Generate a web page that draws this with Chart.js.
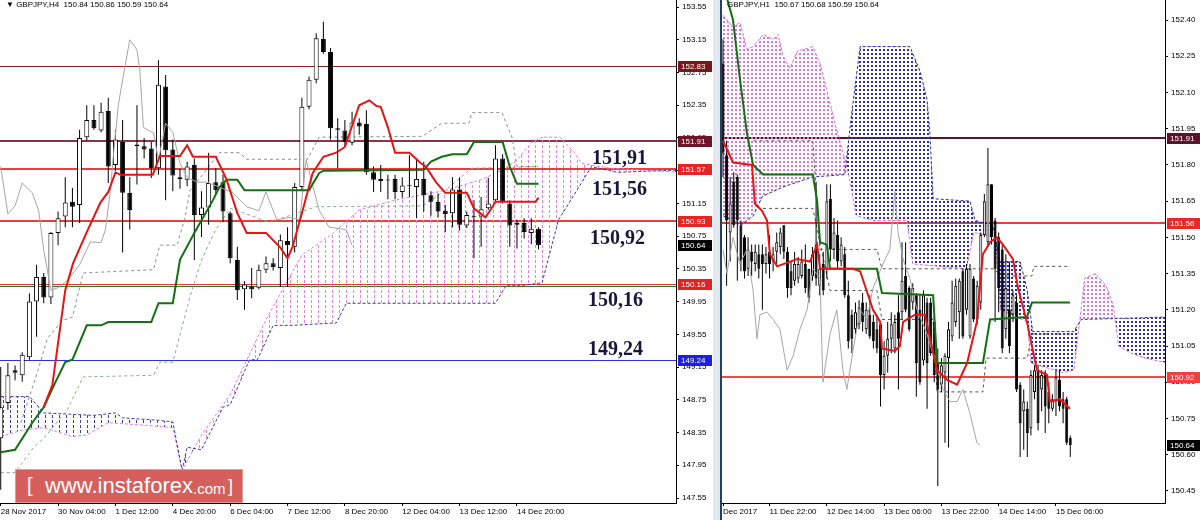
<!DOCTYPE html>
<html>
<head>
<meta charset="utf-8">
<script src="https://cdn.jsdelivr.net/npm/chart.js@4.4.1/dist/chart.umd.min.js"></script>
<style>
  html, body { margin: 0; padding: 0; background: #fff; }
  #wrap { position: relative; width: 1200px; height: 520px; overflow: hidden; background: #fff;
          font-family: 'Liberation Sans', Arial, sans-serif; }
  canvas { position: absolute; top: 0; }
  #cH4 { left: 0; }
  #cH1 { left: 722px; }
  #strip { position: absolute; left: 713px; top: 0; width: 7px; height: 520px; background: #e3e7ee; }
  #sep { position: absolute; left: 720px; top: 0; width: 2px; height: 520px; background: #24405c; }
  .hdr { position: absolute; top: 0; font-size: 8px; line-height: 10px; color: #000; white-space: nowrap; }
  .note { position: absolute; font-family: 'Liberation Serif', 'Times New Roman', serif; font-weight: bold;
          font-size: 20px; line-height: 22px; color: #17173c; }
  #wm { position: absolute; left: 15px; top: 469px; width: 228px; height: 34px; background: #d65f5d;
        border: 1px solid #e49a98; box-sizing: border-box; color: #fff; white-space: nowrap;
        font-family: 'Liberation Sans', Arial, sans-serif; }
  #wm span { position: absolute; top: 4px; }
</style>
</head>
<body>
<div id="wrap">
  <canvas id="cH4" width="713" height="520"></canvas>
  <div id="strip"></div>
  <div id="sep"></div>
  <canvas id="cH1" width="478" height="520"></canvas>

  <div class="hdr" style="left:6px">&#9660; GBPJPY,H4&nbsp; 150.84 150.86 150.59 150.64</div>
  <div class="hdr" style="left:727px">GBPJPY,H1&nbsp; 150.67 150.68 150.59 150.64</div>

  <div class="note" style="left:592px;top:146px">151,91</div>
  <div class="note" style="left:592px;top:177px">151,56</div>
  <div class="note" style="left:590px;top:226px">150,92</div>
  <div class="note" style="left:588px;top:288px">150,16</div>
  <div class="note" style="left:588px;top:337px">149,24</div>

  <div id="wm">
    <span style="left:11px;font-size:20px;top:4px">[</span>
    <span style="left:29px;font-size:22px;top:3px">www.instaforex</span>
    <span style="left:177px;font-size:15px;top:10px">.com</span>
    <span style="left:212px;font-size:18px;top:6px">]</span>
  </div>
</div>

<script>
// ---------- H4 panel ----------
const h4Open = [148.28,148.71,149.11,149.05,149.27,149.95,150.25,150.00,150.79,150.99,
  151.17,151.13,151.96,152.17,152.04,152.28,151.62,151.90,151.28,151.85,
  151.85,151.82,151.58,152.58,151.81,151.47,151.44,151.62,151.01,151.10,
  151.41,151.41,151.03,150.46,150.10,150.13,150.12,150.34,150.42,150.36,
  150.69,150.62,151.35,152.33,152.66,153.16,153.00,152.07,152.04,151.89,
  152.14,152.12,151.53,151.45,151.44,151.45,151.29,151.37,151.35,151.45,
  151.25,151.17,151.06,151.03,151.32,150.88,150.98,150.99,151.09,151.19,
  151.70,151.15,150.91,150.91,150.79,150.84];
const h4High = [149.15,149.20,149.17,149.33,150.05,150.40,150.30,150.80,151.05,151.47,
  151.34,152.05,152.35,152.35,152.38,152.44,152.05,152.17,151.47,152.35,
  151.95,151.90,152.90,152.72,151.93,151.57,151.66,151.70,151.30,151.77,
  151.58,151.50,151.05,150.62,150.20,150.36,150.40,150.50,150.48,150.77,
  150.86,151.40,152.44,152.70,153.23,153.37,153.05,152.19,152.17,152.27,
  152.19,152.29,151.60,151.62,151.50,151.50,151.47,151.74,151.70,151.66,
  151.30,151.27,151.13,151.47,151.47,151.05,151.19,151.23,151.46,151.86,
  151.75,151.19,150.95,150.97,150.97,150.86];
const h4Low = [147.65,148.63,148.99,148.97,149.24,149.52,149.93,149.92,150.64,150.86,
  150.86,150.91,151.92,152.05,152.02,151.40,151.55,150.55,150.83,151.38,
  151.70,151.46,151.50,151.19,151.30,151.33,151.36,150.46,150.74,150.89,
  151.25,150.92,150.42,149.97,149.85,149.99,150.10,150.30,150.33,150.13,
  150.13,150.55,151.31,152.30,152.62,152.98,151.93,151.58,151.85,151.86,
  151.99,151.50,151.29,151.29,151.20,151.20,151.22,151.23,150.97,151.05,
  151.00,150.98,150.80,150.86,150.82,150.85,150.48,150.62,151.07,151.17,
  151.15,150.62,150.60,150.72,150.65,150.59];
const h4Close = [148.66,149.05,149.08,149.30,149.95,150.25,150.00,150.79,150.97,151.16,
  151.11,151.95,152.17,152.07,152.27,151.60,151.93,151.28,151.07,151.87,
  151.81,151.58,152.60,151.80,151.49,151.45,151.60,151.01,151.10,151.40,
  151.31,151.05,150.48,150.09,150.16,150.10,150.34,150.42,150.37,150.70,
  150.64,151.35,152.33,152.66,153.17,153.00,152.07,152.05,151.90,152.14,
  152.09,151.53,151.44,151.42,151.43,151.29,151.37,151.36,151.45,151.25,
  151.17,151.05,151.02,151.32,150.89,151.01,150.99,151.08,151.15,151.70,
  151.17,150.88,150.89,150.80,150.84,150.64];

// indicator vertices as [bar, price]
const h4Tenkan = [[6,148.66],[7.2,148.93],[9,150.09],[10.1,150.42],[12,150.80],[13.9,151.16],[15,151.29],
  [16,151.53],[16.7,151.50],[21.2,151.50],[22.2,151.73],[25,151.73],[26,151.86],[26.8,151.72],
  [30,151.72],[31.5,151.44],[33,151.03],[34.3,150.79],[37,150.79],[39,150.61],[40,150.48],
  [40.7,150.62],[42,151.03],[43.5,151.52],[45,151.72],[46.8,151.77],[48,151.84],[50,152.35],
  [51.4,152.41],[52.4,152.34],[53,152.33],[54,152.08],[55,151.77],[57,151.77],[58.6,151.64],
  [59.3,151.60],[60.7,151.41],[62,151.28],[65,151.28],[66,151.09],[67.6,150.98],[68.3,151.07],
  [69,151.17],[74.6,151.17],[75,151.22]];
const h4Kijun = [[0,148.11],[2,148.14],[4.4,148.47],[6,148.66],[7.6,148.96],[9,149.21],[10,149.24],
  [12,149.66],[14,149.66],[15,149.70],[21,149.70],[22,149.93],[24,149.93],[25,150.46],[27,150.79],
  [29.6,151.19],[30.5,151.35],[31.5,151.44],[33,151.44],[34,151.31],[43,151.31],[44.4,151.52],
  [45,151.55],[59,151.56],[60,151.66],[61.5,151.72],[63,151.75],[65,151.75],[66,151.90],
  [70,151.90],[71,151.60],[72,151.39],[75,151.39]];
const h4Chikou = [[0,151.60],[1,151.02],[2,151.12],[3,151.40],[4.4,151.28],[5.3,151.06],[6,150.58],
  [7,150.09],[8,150.12],[9.3,150.21],[11,150.40],[12.5,150.68],[14,150.67],[14.6,150.83],
  [15.3,151.31],[15.7,151.72],[16.4,152.35],[17,152.66],[18,153.15],[19,153.03],[19.4,152.78],
  [19.9,152.08],[21.3,152.01],[22,151.68],[23,152.13],[24,152.02],[25,151.64],[26,151.47],
  [27.4,151.41],[28.8,151.41],[32.4,151.28],[34.3,151.11],[36,151.06],[37,151.29],[38.5,150.95],
  [40.3,150.98],[41.7,150.95],[42.6,151.68],[44.4,151.07],[45.8,150.86],[48.2,150.83],[49,150.64]];
const h4SpanA = [[0,148.30],[3,148.38],[6,148.41],[10,148.30],[12,148.32],[15,148.47],[20,148.44],
  [24,148.41],[25.3,147.89],[28,148.32],[32,148.81],[35,149.36],[37,149.73],[42,150.52],
  [46,150.76],[50,151.07],[55,151.19],[62,151.31],[67,151.44],[70,151.56],[72,151.68],
  [74,151.89],[75.5,151.96],[78,151.96],[80,151.77],[81,151.64],[85,151.58],[95,151.53]];
const h4SpanB = [[0,148.79],[4,148.79],[5.3,148.66],[6,148.59],[13,148.56],[16,148.59],[17,148.53],
  [22,148.50],[24,148.48],[25.3,147.89],[26,148.17],[28,148.14],[31,148.66],[32,148.69],
  [34.7,149.24],[35.8,149.24],[38,149.66],[40.7,149.66],[46.8,149.69],[48.2,149.93],[69,149.93],
  [70.5,150.15],[73,150.15],[75.5,150.18],[77.8,150.95],[82.4,151.60],[86,151.53],[95,151.56]];
const h4DashUpper = [[2.8,148.47],[5.1,149.08],[6.5,149.50],[8.6,149.72],[10,149.76],[11.5,150.30],
  [13.9,150.31],[21.3,150.34],[22.2,150.64],[24.6,150.64],[25.7,150.98],[26.4,151.31],[27.8,151.46],
  [30.5,151.77],[33.3,151.77],[34.3,151.69],[42.8,151.69],[44.4,151.96],[58.8,151.97],[61.5,152.13],
  [65.3,152.13],[65.7,152.26],[69.9,152.26],[71.3,151.96],[72,151.60],[75,151.60]];
const h4DashLower = [[0,147.86],[2,147.86],[4.6,148.17],[6,148.28],[9.3,148.63],[11.5,149.03],
  [21.3,149.05],[22.2,149.21],[24,149.21],[26.4,150.01],[28,150.46],[30,150.83],[32,151.09],
  [37.5,150.92],[44,151.11],[58.8,151.12],[62,151.31],[65.7,151.58],[75,151.60]];

const h4Levels = [152.83, 151.91, 151.57, 150.93, 150.16, 150.14, 149.24];
const h4LastPrice = 150.64;
const h4PriceTicks = [147.55,147.95,148.35,148.75,149.15,149.55,149.95,150.35,150.75,151.15,
  151.55,151.95,152.35,152.75,153.15,153.55];
const h4TimeTicks = [0, 8, 16, 24, 32, 40, 48, 56, 64, 72];
const h4TimeLabels = ['28 Nov 2017','30 Nov 04:00','1 Dec 12:00','4 Dec 20:00','6 Dec 04:00',
  '7 Dec 12:00','8 Dec 20:00','12 Dec 04:00','13 Dec 12:00','14 Dec 20:00'];

// ---------- H1 panel ----------
const h1Open = [152.22,151.84,151.52,151.73,151.75,151.55,151.50,151.37,151.44,151.39,
  151.43,151.43,151.39,151.44,151.40,151.44,151.46,151.55,151.44,151.36,
  151.32,151.33,151.34,151.39,151.37,151.34,151.47,151.30,151.39,151.37,
  151.66,151.45,151.51,151.40,151.43,151.26,151.18,151.12,151.14,151.23,
  151.12,151.18,151.15,151.12,151.14,150.93,151.01,151.08,151.04,151.19,
  151.19,151.34,151.29,151.23,151.26,151.20,150.99,151.23,151.23,151.15,
  150.98,150.89,150.94,151.00,151.09,151.15,151.19,151.36,151.20,151.09,
  151.33,151.16,151.23,151.51,151.48,151.72,151.57,151.50,151.45,151.12,
  151.20,151.18,151.23,150.89,150.78,150.79,150.71,150.86,150.95,150.87,
  150.94,150.86,150.79,150.82,150.91,150.83,150.83,150.67];
const h1High = [152.32,151.90,151.75,151.77,151.76,151.57,151.51,151.50,151.47,151.47,
  151.47,151.47,151.46,151.51,151.46,151.52,151.54,151.55,151.46,151.40,
  151.44,151.42,151.45,151.47,151.37,151.46,151.73,151.43,151.44,151.72,
  151.72,151.58,151.57,151.50,151.46,151.32,151.20,151.23,151.24,151.27,
  151.23,151.26,151.18,151.18,151.15,151.07,151.15,151.19,151.18,151.26,
  151.48,151.48,151.30,151.31,151.27,151.26,151.28,151.25,151.25,151.18,
  151.04,151.00,151.02,151.15,151.32,151.33,151.33,151.37,151.39,151.39,
  151.34,151.32,151.52,151.68,151.87,151.72,151.58,151.52,151.47,151.43,
  151.40,151.28,151.26,150.90,150.87,150.82,150.95,150.97,150.97,150.95,
  150.95,150.90,150.85,150.95,150.95,150.86,150.84,150.68];
const h1Low = [151.75,151.30,151.40,151.54,151.32,151.36,151.33,151.34,151.34,151.36,
  151.33,151.20,151.35,151.33,151.36,151.39,151.43,151.41,151.25,151.26,
  151.30,151.31,151.33,151.27,151.23,151.32,151.30,151.26,151.26,151.33,
  151.40,151.41,151.37,151.38,151.25,151.04,151.02,151.10,151.12,151.11,
  151.10,151.08,151.04,151.02,150.80,150.87,150.94,151.02,151.02,150.87,
  151.16,151.19,151.11,151.20,150.84,150.89,150.97,150.79,151.01,150.90,
  150.47,150.86,150.65,150.63,151.07,151.13,151.08,151.08,151.18,151.08,
  151.15,151.14,151.20,151.50,151.46,151.47,151.15,151.19,151.02,151.08,
  151.02,151.15,150.86,150.59,150.62,150.59,150.68,150.83,150.70,150.78,
  150.69,150.73,150.78,150.76,150.78,150.73,150.64,150.59];
const h1Close = [151.85,151.57,151.64,151.55,151.57,151.40,151.36,151.45,151.40,151.44,
  151.37,151.39,151.43,151.39,151.43,151.48,151.52,151.44,151.29,151.29,
  151.39,151.39,151.40,151.29,151.25,151.43,151.33,151.37,151.28,151.65,
  151.45,151.52,151.40,151.47,151.26,151.07,151.08,151.19,151.21,151.15,
  151.20,151.09,151.07,151.04,150.93,151.01,151.08,151.14,151.15,151.08,
  151.32,151.20,151.12,151.29,150.98,150.90,151.26,150.98,151.02,150.93,
  150.87,150.97,151.01,151.12,151.23,151.30,151.32,151.09,151.37,151.37,
  151.16,151.30,151.51,151.65,151.72,151.50,151.37,151.29,151.04,151.29,
  151.05,151.26,150.87,150.73,150.82,150.69,150.93,150.95,150.73,150.93,
  150.80,150.79,150.83,150.92,150.80,150.79,150.65,150.64];

const h1Tenkan = [[0,151.90],[2.8,151.81],[8.1,151.80],[8.9,151.64],[10.9,151.61],[12.3,151.57],
  [13.1,151.43],[15.1,151.38],[20.7,151.41],[24.3,151.40],[26.3,151.47],[27.1,151.37],[36.3,151.37],
  [38.3,151.36],[41.9,151.20],[43.9,151.15],[44.4,151.04],[48,151.03],[49.4,151.05],[50.3,151.15],
  [53.6,151.18],[56.4,151.18],[59.8,150.95],[62.6,150.91],[65.4,150.89],[68.2,150.98],[70.9,151.15],
  [72.6,151.43],[74.6,151.48],[76.5,151.50],[78.2,151.47],[81,151.41],[82.4,151.29],[84.9,151.15],
  [87.7,150.95],[90.5,150.93],[91.3,150.82],[94.1,150.83],[96.9,150.79]];
const h1Kijun = [[0,152.55],[2.8,152.40],[4.7,152.16],[6.7,151.93],[8.4,151.80],[11.2,151.76],
  [25.1,151.76],[26.3,151.65],[27.1,151.48],[29,151.47],[29.9,151.37],[43,151.37],[44.4,151.27],
  [58.7,151.26],[59.8,150.98],[72.6,150.98],[74.6,151.16],[84.9,151.17],[86.3,151.23],[96.9,151.23]];
const h1Chikou = [[0,151.45],[1.1,151.35],[2.8,151.50],[4.7,151.39],[6.7,151.45],[8.4,151.28],
  [9.5,151.08],[10.3,151.18],[12.3,151.19],[14,151.16],[15.9,151.12],[17.9,150.95],[19.6,151.01],
  [21.5,151.12],[23.5,151.20],[25.1,151.37],[27.1,151.33],[27.9,150.90],[29.9,151.10],[31.8,151.20],
  [33.5,150.95],[34.6,150.87],[36.3,151.03],[38.3,151.20],[40.2,151.16],[41.9,151.29],[44.7,151.39],
  [46.6,151.45],[48,151.69],[48.9,151.52],[50.3,151.41],[52.2,151.33],[54.2,151.20],[57,151.10],
  [61.5,150.87],[63.4,150.82],[65.4,150.82],[67,150.87],[69,150.77],[70.9,150.65],[71.8,150.64]];
const h1SpanA = [[0,152.42],[2.8,152.37],[4.7,152.39],[6.7,152.28],[8.4,152.29],[11.2,152.34],
  [14,152.32],[15.4,152.34],[16.8,152.25],[18.7,152.20],[20.7,152.27],[25.1,152.29],[27.1,152.22],
  [29,152.11],[31.3,151.97],[34.1,151.82],[35.5,151.73],[37.2,151.59],[41.9,151.57],[51.4,151.57],
  [53,151.39],[68,151.37],[70,151.52],[76,151.50],[77.5,151.20],[85,151.15],[86,150.98],[95,150.94],
  [98,150.95],[100,151.20],[101,151.33],[104,151.35],[107,151.30],[109,151.22],[110.5,151.05],
  [114,151.02],[118,151.00],[124,150.98]];
const h1SpanB = [[0,151.59],[5,151.55],[8.5,151.59],[11,151.67],[17,151.71],[25,151.75],[34,151.76],
  [36,152.02],[38.3,152.29],[52.2,152.29],[55,152.19],[57,152.07],[57.8,151.93],[58.7,151.66],
  [69,151.65],[70.4,151.57],[75.4,151.55],[77.4,151.40],[83,151.40],[85,151.28],[86.5,151.11],
  [98,151.11],[100,151.16],[124,151.17]];
const h1DashUpper = [[8.5,151.90],[25.1,151.90],[27.1,151.45],[43,151.45],[44.4,151.37],[75.4,151.37],
  [78,151.34],[86.3,151.34],[86.8,151.38],[96.9,151.38]];
const h1DashLower = [[11.2,151.62],[25.1,151.62],[29.9,151.28],[43,151.28],[44.4,151.16],[58.7,151.16],
  [59.8,150.86],[72.6,150.86],[73.5,151.00],[85,151.00],[86.3,151.10],[96.9,151.10]];

const h1Levels = [151.91, 151.56, 150.92];
const h1LastPrice = 150.64;
const h1PriceTicks = [150.45,150.60,150.75,150.90,151.05,151.20,151.35,151.50,151.65,151.80,
  151.95,152.10,152.25,152.40];
const h1TimeTicks = [0, 13, 29, 45, 61, 77, 93];
const h1TimeLabels = ['Dec 2017','11 Dec 22:00','12 Dec 14:00','13 Dec 06:00','13 Dec 22:00',
  '14 Dec 14:00','15 Dec 06:00'];

// ---------- drawing ----------
Chart.defaults.font.family = "'Liberation Sans', Arial, sans-serif";

function makePattern(w, h, color, rects) {
  const c = document.createElement('canvas');
  c.width = w; c.height = h;
  const g = c.getContext('2d');
  g.fillStyle = color;
  rects.forEach(r => g.fillRect(r[0], r[1], r[2], r[3]));
  return g.createPattern(c, 'repeat');
}

const pts = arr => arr.map(p => ({ x: p[0], y: p[1] }));

// horizontal levels + price tags on the axis
function levelPlugin(values, styles, last, tagW) {
  return {
    id: 'levels',
    beforeDatasetsDraw(chart) {
      const { ctx, chartArea: a } = chart;
      const y = chart.scales.y;
      values.forEach((v, i) => {
        const st = styles[i];
        const py = Math.round(y.getPixelForValue(v)) + (st.w % 2 ? 0.5 : 0);
        ctx.save();
        ctx.strokeStyle = st.c;
        ctx.lineWidth = st.w;
        ctx.beginPath();
        ctx.moveTo(a.left, py);
        ctx.lineTo(a.right, py);
        ctx.stroke();
        ctx.restore();
      });
    },
    afterDraw(chart) {
      const { ctx, chartArea: a } = chart;
      const y = chart.scales.y;
      const tags = values.map((v, i) => [v, styles[i].tag]).filter(t => t[1]);
      tags.push([last, '#000000']);
      ctx.save();
      ctx.font = "8px 'Liberation Sans', Arial, sans-serif";
      ctx.textBaseline = 'middle';
      tags.forEach(([v, bg]) => {
        const py = Math.round(y.getPixelForValue(v));
        ctx.fillStyle = bg;
        ctx.fillRect(a.right + 2, py - 5, tagW, 11);
        ctx.fillStyle = '#ffffff';
        ctx.fillText(v.toFixed(2), a.right + 5, py + 0.5);
      });
      ctx.restore();
    }
  };
}

function candleChart(id, d) {
  const n = d.open.length;
  const wicks = [], bodies = [], fills = [];
  for (let i = 0; i < n; i++) {
    wicks.push({ x: i, y: [d.low[i], d.high[i]] });
    bodies.push({ x: i, y: [Math.min(d.open[i], d.close[i]), Math.max(d.open[i], d.close[i])] });
    fills.push(d.close[i] >= d.open[i] ? '#ffffff' : '#000000');
  }
  const line = (data, color, width, dash, order) => ({
    type: 'line', data: pts(data), borderColor: color, borderWidth: width, borderDash: dash,
    pointRadius: 0, tension: 0, fill: false, order: order
  });
  const spanA = line(d.spanA, d.pinkLine, 1, [3, 2], 20);
  spanA.fill = { target: 1, above: d.pinkFill, below: d.blueFill };

  return new Chart(document.getElementById(id), {
    type: 'bar',
    data: {
      datasets: [
        spanA,
        line(d.spanB, d.blueLine, 1, [3, 2], 19),
        line(d.dashUpper, d.dashColors[0], 1, [3, 3], 15),
        line(d.dashLower, d.dashColors[1], 1, [3, 3], 15),
        { data: wicks, backgroundColor: '#000000', barThickness: 1, grouped: false,
          inflateAmount: 0, order: 10 },
        { data: bodies, backgroundColor: fills, borderColor: '#000000', borderWidth: 1,
          borderSkipped: false, barThickness: d.bodyW, minBarLength: 1, grouped: false,
          inflateAmount: 0, order: 9 },
        line(d.chikou, '#a6a6a6', 1, [], 5),
        line(d.kijun, '#127012', 2, [], 3),
        line(d.tenkan, '#e51515', 2, [], 2)
      ]
    },
    plugins: [levelPlugin(d.levels, d.levelStyles, d.last, d.tagW)],
    options: {
      responsive: false,
      animation: false,
      devicePixelRatio: 1,
      events: [],
      layout: { padding: 0 },
      scales: {
        x: {
          type: 'linear', min: d.xMin, max: d.xMax, offset: false,
          grid: { offset: false, drawOnChartArea: false, drawTicks: true, tickLength: 3, color: '#000' },
          border: { display: true, color: '#000' },
          ticks: {
            align: 'start', maxRotation: 0, autoSkip: false, padding: 1, color: '#000',
            font: { size: 8 },
            callback: (v, i) => d.timeLabels[i]
          },
          afterBuildTicks: s => { s.ticks = d.timeTicks.map(v => ({ value: v })); },
          afterFit: s => { s.height = 17; s.paddingLeft = 0; s.paddingRight = 0; }
        },
        y: {
          type: 'linear', position: 'right', min: d.yMin, max: d.yMax, beginAtZero: false,
          grid: { drawOnChartArea: false, drawTicks: true, tickLength: 3, color: '#000' },
          border: { display: true, color: '#000' },
          ticks: { padding: 3, color: '#000', font: { size: 8 }, callback: v => v.toFixed(2) },
          afterBuildTicks: s => { s.ticks = d.priceTicks.map(v => ({ value: v })); },
          afterFit: s => { s.width = d.axisW; s.paddingTop = 0; s.paddingBottom = 0; }
        }
      },
      plugins: {
        legend: { display: false },
        tooltip: { enabled: false }
      }
    }
  });
}

candleChart('cH4', {
  open: h4Open, high: h4High, low: h4Low, close: h4Close,
  tenkan: h4Tenkan, kijun: h4Kijun, chikou: h4Chikou,
  spanA: h4SpanA, spanB: h4SpanB, dashUpper: h4DashUpper, dashLower: h4DashLower,
  pinkLine: '#e07ce0', blueLine: '#3a3aa6', dashColors: ['#8c8c8c', '#80b080'],
  pinkFill: makePattern(7, 5, '#e383e3', [[3, 0, 1, 3]]),
  blueFill: makePattern(7, 5, '#3c3cae', [[3, 0, 1, 3]]),
  bodyW: 5, xMin: -0.1, xMax: 94.18, yMin: 147.489, yMax: 153.636, axisW: 37, tagW: 34,
  priceTicks: h4PriceTicks, timeTicks: h4TimeTicks, timeLabels: h4TimeLabels,
  levels: h4Levels, last: h4LastPrice,
  levelStyles: [
    { c: '#8c2222', w: 1, tag: '#7d1717' },
    { c: '#8a3448', w: 2, tag: '#6e1426' },
    { c: '#ee3c3c', w: 2, tag: '#e52424' },
    { c: '#ee3c3c', w: 2, tag: '#e52424' },
    { c: '#e83a3a', w: 1, tag: '#e02222' },
    { c: '#2f7d2f', w: 1, tag: null },
    { c: '#3030e0', w: 1, tag: '#1f1fe0' }
  ]
});

candleChart('cH1', {
  open: h1Open, high: h1High, low: h1Low, close: h1Close,
  tenkan: h1Tenkan, kijun: h1Kijun, chikou: h1Chikou,
  spanA: h1SpanA, spanB: h1SpanB, dashUpper: h1DashUpper, dashLower: h1DashLower,
  pinkLine: '#dc6edc', blueLine: '#2c2c9c', dashColors: ['#555555', '#555555'],
  pinkFill: makePattern(4, 4, '#e072e0', [[1, 1, 2, 2]]),
  blueFill: makePattern(4, 4, '#2a2ac4', [[1, 1, 2, 2]]),
  bodyW: 3, xMin: -0.28, xMax: 123.46, yMin: 150.40, yMax: 152.483, axisW: 35, tagW: 33,
  priceTicks: h1PriceTicks, timeTicks: h1TimeTicks, timeLabels: h1TimeLabels,
  levels: h1Levels, last: h1LastPrice,
  levelStyles: [
    { c: '#5e1228', w: 2, tag: '#5e1228' },
    { c: '#ee3c3c', w: 2, tag: '#e52a2a' },
    { c: '#f04848', w: 2, tag: '#f04040' }
  ]
});
</script>
</body>
</html>
